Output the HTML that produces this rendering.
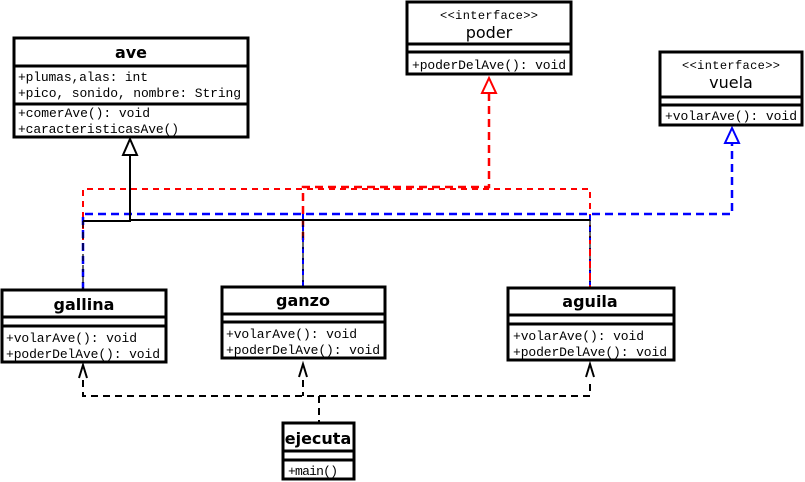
<!DOCTYPE html>
<html><head><meta charset="utf-8"><style>
html,body{margin:0;padding:0;background:#fff;width:805px;height:482px;overflow:hidden}
.m{font-family:"Liberation Mono",monospace;font-size:13px;fill:#000}
.t{font-family:"DejaVu Sans","Liberation Sans",sans-serif;font-weight:bold;font-size:16px;fill:#000}
.i{font-family:"DejaVu Sans","Liberation Sans",sans-serif;font-size:16px;fill:#000}
.s{font-family:"Liberation Mono",monospace;font-size:12px;fill:#000}
</style></head><body>
<svg width="805" height="482" xmlns="http://www.w3.org/2000/svg">
<g fill="none">
<path d="M83,240 V189 H590 V240" stroke="red" stroke-width="2" stroke-dasharray="6,5"/>
<path d="M303,240 V187 H489 V92" stroke="red" stroke-width="2.5" stroke-dasharray="8,5"/>
<path d="M83,290 V214 H732 V142" stroke="#00f" stroke-width="2.5" stroke-dasharray="8,5"/>
<path d="M303,286 V214 M590,287 V214" stroke="#00f" stroke-width="2" stroke-dasharray="6,5"/>
<path d="M130,152 V221 H83 M130,220 H590" stroke="#000" stroke-width="2"/>
<path d="M83,221 V290 M303,220 V286 M590,220 V287" stroke="#000" stroke-width="2" stroke-dasharray="7,4" opacity="0.6"/>
<path d="M590,240 V287" stroke="red" stroke-width="2" stroke-dasharray="7,5" stroke-dashoffset="3"/>
<polygon points="130,139 123,155 137,155" fill="#fff" stroke="#000" stroke-width="2"/>
<polygon points="489,78 482,93 496,93" fill="#fff" stroke="red" stroke-width="2"/>
<polygon points="732,128 725,143 739,143" fill="#fff" stroke="#00f" stroke-width="2"/>
<path d="M83,380 V396 H590 V380 M319,396 V422 M303,380 V396" stroke="#000" stroke-width="2" stroke-dasharray="7,5"/>
<path d="M79,378 L83,365 L87,378 M299,377 L303,364 L307,377 M586,377 L590,364 L594,377" stroke="#000" stroke-width="2"/>
</g>
<g fill="#fff" stroke="#000" stroke-width="3">
<rect x="14" y="38" width="234" height="99"/><path d="M14,66 H248 M14,104 H248"/>
<rect x="407" y="2" width="164" height="72"/><path d="M407,44 H571 M407,52 H571"/>
<rect x="660" y="52" width="142" height="73"/><path d="M660,97 H802 M660,105 H802"/>
<rect x="2" y="290" width="164" height="72"/><path d="M2,317 H166 M2,326 H166"/>
<rect x="222" y="287" width="163" height="71"/><path d="M222,314 H385 M222,322 H385"/>
<rect x="508" y="288" width="166" height="72"/><path d="M508,315 H674 M508,324 H674"/>
<rect x="283" y="423" width="71" height="56"/><path d="M283,451 H354 M283,460 H354"/>
</g>
<text class="t" x="131" y="58" text-anchor="middle">ave</text>
<text class="m" x="18" y="81" textLength="130">+plumas,alas: int</text>
<text class="m" x="18" y="97" textLength="223">+pico, sonido, nombre: String</text>
<text class="m" x="18" y="117" textLength="132">+comerAve(): void</text>
<text class="m" x="18" y="133" textLength="161">+caracteristicasAve()</text>
<text class="s" x="489" y="19" text-anchor="middle" textLength="98">&lt;&lt;interface&gt;&gt;</text>
<text class="i" x="489" y="38" text-anchor="middle">poder</text>
<text class="m" x="412" y="69" textLength="154">+poderDelAve(): void</text>
<text class="s" x="731" y="69" text-anchor="middle" textLength="98">&lt;&lt;interface&gt;&gt;</text>
<text class="i" x="731" y="88" text-anchor="middle">vuela</text>
<text class="m" x="665" y="120" textLength="132">+volarAve(): void</text>
<text class="t" x="84" y="310" text-anchor="middle">gallina</text>
<text class="m" x="6" y="342" textLength="131">+volarAve(): void</text>
<text class="m" x="6" y="358" textLength="154">+poderDelAve(): void</text>
<text class="t" x="303" y="306" text-anchor="middle">ganzo</text>
<text class="m" x="226" y="338" textLength="131">+volarAve(): void</text>
<text class="m" x="226" y="354" textLength="154">+poderDelAve(): void</text>
<text class="t" x="590" y="307" text-anchor="middle">aguila</text>
<text class="m" x="513" y="340" textLength="131">+volarAve(): void</text>
<text class="m" x="513" y="356" textLength="154">+poderDelAve(): void</text>
<text class="t" x="318" y="444" text-anchor="middle">ejecuta</text>
<text class="m" x="288" y="475" textLength="50">+main()</text>
</svg>
</body></html>
